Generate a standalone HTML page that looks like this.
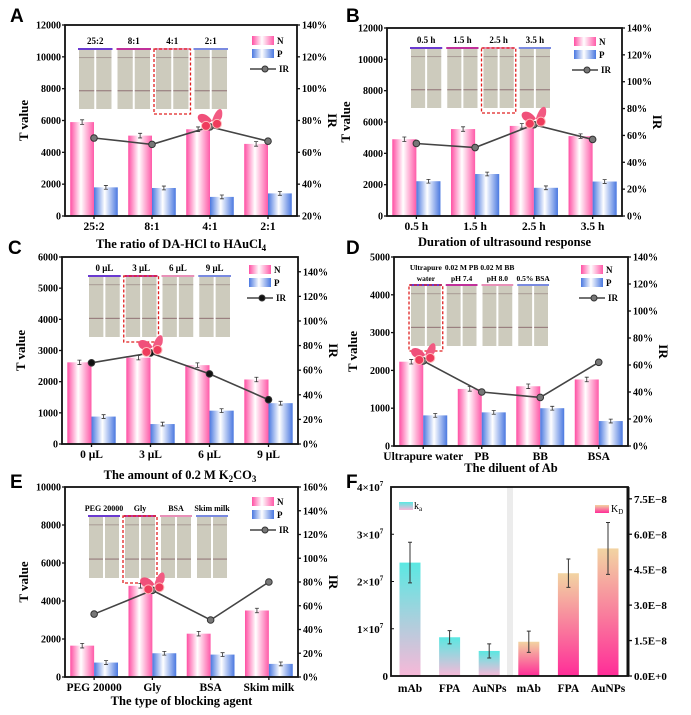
<!DOCTYPE html>
<html><head><meta charset="utf-8"><style>
body{margin:0;background:#fff}
svg{display:block;font-family:"Liberation Serif",serif;font-weight:bold}
.pl{font-family:"Liberation Sans",sans-serif;font-weight:bold;font-size:19px}
</style></head><body>
<svg id="fig" width="691" height="715" viewBox="0 0 691 715" xmlns="http://www.w3.org/2000/svg">
<defs>
<linearGradient id="gN" x1="0" x2="1" y1="0" y2="0"><stop offset="0" stop-color="#ff4fa3"/><stop offset="0.45" stop-color="#fff"/><stop offset="1" stop-color="#ff5aa8"/></linearGradient>
<linearGradient id="gP" x1="0" x2="1" y1="0" y2="0"><stop offset="0" stop-color="#4a78e0"/><stop offset="0.45" stop-color="#fff"/><stop offset="1" stop-color="#4a78e0"/></linearGradient>
<linearGradient id="gKa" x1="0" x2="0" y1="0" y2="1"><stop offset="0" stop-color="#5ae8e2"/><stop offset="1" stop-color="#f8b8d8"/></linearGradient>
<linearGradient id="gKd" x1="0" x2="0" y1="0" y2="1"><stop offset="0" stop-color="#f2d4a2"/><stop offset="1" stop-color="#ff2c98"/></linearGradient>
</defs>
<text class="pl" x="10" y="22">A</text>
<text class="pl" x="346" y="22">B</text>
<text class="pl" x="8" y="254">C</text>
<text class="pl" x="346" y="254">D</text>
<text class="pl" x="10" y="488">E</text>
<text class="pl" x="346" y="488">F</text>
</svg>
<script>
const NS="http://www.w3.org/2000/svg";
const svg=document.getElementById('fig');
function el(tag,attrs,parent,text){const e=document.createElementNS(NS,tag);for(const k in attrs)e.setAttribute(k,attrs[k]);if(text!==undefined)e.textContent=text;(parent||svg).appendChild(e);return e;}

// ---- Data ----
const catsA=["25:2","8:1","4:1","2:1"];
const nA=[5900,5050,5450,4530];
const pA=[1800,1760,1200,1420];
const irA=[69,65,76,67];
const catsB=["0.5 h","1.5 h","2.5 h","3.5 h"];
const nB=[4900,5550,5750,5100];
const pB=[2220,2680,1800,2200];
const irB=[54,51,68,57];
const catsC=["0 μL","3 μL","6 μL","9 μL"];
const nC=[2620,2770,2530,2070];
const pC=[880,640,1070,1310];
const irC=[66,74,57,36];
const catsD=["Ultrapure water","PB","BB","BSA"];
const nD=[2230,1510,1580,1760];
const pD=[810,890,1000,660];
const irD=[63,40,36,62];
const catsE=["PEG 20000","Gly","BSA","Skim milk"];
const nE=[1650,4800,2280,3500];
const pE=[760,1250,1180,690];
const irE=[53,73,48,80];
const catsF=["mAb","FPA","AuNPs","mAb","FPA","AuNPs"];
const kaVals=[2.4,0.82,0.53];
const kaErr=[0.43,0.14,0.15];
const kdVals=[1.45,4.35,5.4];
const kdErr=[0.45,0.6,1.1];
const ticksF=["0","1×10","2×10","3×10","4×10"];
const ticksFR=["0.0E+0","1.5E−8","3.0E−8","4.5E−8","6.0E−8","7.5E−8"];

function panel(c){
  const g=el('g',{});
  const w=c.r-c.l,h=c.b-c.t;
  const yL=v=>c.b-v/c.maxL*h;
  const yR=p=>c.b-(p-c.minR)/(c.maxR-c.minR)*h;
  const cx=i=>c.l+w/c.cats.length*(i+0.5);
  const ins=el('g',{},g);
  
  
  const gw=(c.ix1-c.ix0)/4;
  const lineCol=["#6a3ad0","#c0309a","#e890b8","#7a8ae0"];
  for(let i=0;i<4;i++){
    const x=c.ix0+gw*i+2;
    for(let s=0;s<2;s++){
      const sx=x+s*(gw-4)/2;
      el('rect',{x:sx+1,y:c.iy0,width:(gw-4)/2-2,height:c.iy1-c.iy0,fill:"#cdcbbd"},ins);
      el('rect',{x:sx+1,y:c.iy0+(c.iy1-c.iy0)*0.12,width:(gw-4)/2-2,height:1,fill:"#a89a94"},ins);
      el('rect',{x:sx+1,y:c.iy0+(c.iy1-c.iy0)*0.68,width:(gw-4)/2-2,height:1.2,fill:"#9a8080"},ins);
    }
    el('rect',{x:x,y:c.iy0-2,width:gw-4,height:2,fill:lineCol[i]},ins);
    const lab=c.ilabs[i];
    if(Array.isArray(lab)){el('text',{x:x+(gw-4)/2,y:c.iy0-16,'font-size':7.5,'text-anchor':'middle'},ins,lab[0]);el('text',{x:x+(gw-4)/2,y:c.iy0-5,'font-size':7.5,'text-anchor':'middle'},ins,lab[1]);}
    else el('text',{x:x+(gw-4)/2,y:c.iy0-6,'font-size':c.ifs||9,'text-anchor':'middle'},ins,lab);
    if(i===c.hi) el('rect',{x:x-1,y:c.iy0-1,width:gw-2,height:c.iy1-c.iy0+6,fill:'none',stroke:'#e02020','stroke-width':1.3,'stroke-dasharray':'3,2'},ins);
  }
  const bw=w/4*0.41;
  c.n.forEach((v,i)=>{
    const b=el('rect',{x:cx(i)-bw,y:yL(v),width:bw,height:c.b-yL(v),fill:'url(#gN)'},g);
    
    
    const e=c.maxL*0.012;
    el('path',{d:`M${cx(i)-bw/2} ${yL(v+e)}V${yL(v-e)}M${cx(i)-bw/2-2} ${yL(v+e)}h4M${cx(i)-bw/2-2} ${yL(v-e)}h4`,stroke:'#333','stroke-width':0.8,fill:'none'},g);
  });
  c.p.forEach((v,i)=>{
    const b=el('rect',{x:cx(i),y:yL(v),width:bw,height:c.b-yL(v),fill:'url(#gP)'},g);
    
    
    const e=c.maxL*0.01;
    el('path',{d:`M${cx(i)+bw/2} ${yL(v+e)}V${yL(v-e)}M${cx(i)+bw/2-2} ${yL(v+e)}h4M${cx(i)+bw/2-2} ${yL(v-e)}h4`,stroke:'#333','stroke-width':0.8,fill:'none'},g);
  });
  const pts=c.ir.map((v,i)=>cx(i)+','+yR(v)).join(' ');
  const ln=el('polyline',{points:pts,fill:'none',stroke:'#444','stroke-width':1.6},g);
  
  
  c.ir.forEach((v,i)=>{
    const d=el('circle',{cx:cx(i),cy:yR(v),r:3.3,fill:c.dot||'#777',stroke:'#333','stroke-width':1},g);
    
    
  });
  const bx=cx(c.hi),by=yR(c.ir[c.hi]);
  const bf=el('g',{transform:`translate(${bx+2},${by-6})`},g);
  
  
  el('path',{d:'M0 0 C-6 -10 -16 -8 -14 -2 C-12 4 -4 4 0 0 Z',fill:'#f0507a'},bf);
  el('path',{d:'M0 0 C4 -14 12 -16 10 -4 C8 2 2 2 0 0 Z',fill:'#f25a82'},bf);
  el('circle',{cx:-6,cy:5,r:4.5,fill:'#ef3b5c',stroke:'#fbb','stroke-width':1},bf);
  el('circle',{cx:5,cy:3,r:4.5,fill:'#ef3b5c',stroke:'#fbb','stroke-width':1},bf);
  el('rect',{x:c.l,y:c.t,width:w,height:h,fill:'none',stroke:'#111','stroke-width':1.8},g);
  const step=c.stepL;
  for(let v=0;v<=c.maxL+1;v+=step){
    el('line',{x1:c.l-3,x2:c.l,y1:yL(v),y2:yL(v),stroke:'#111','stroke-width':1.3},g);
    el('text',{x:c.l-4,y:yL(v)+3.5,'font-size':10,'text-anchor':'end'},g,v);
  }
  for(let p=c.minR;p<=c.topR;p+=20){
    el('line',{x1:c.r,x2:c.r+3,y1:yR(p),y2:yR(p),stroke:'#111','stroke-width':1.3},g);
    el('text',{x:c.r+5,y:yR(p)+3.5,'font-size':10},g,p+'%');
  }
  c.cats.forEach((s,i)=>{
    el('line',{x1:cx(i),x2:cx(i),y1:c.b,y2:c.b+3,stroke:'#111','stroke-width':1.3},g);
    const t=el('text',{x:cx(i),y:c.b+14,'font-size':11.5,'text-anchor':'middle'},g,s);
    
    
  });
  const yt=el('text',{transform:`translate(${c.l-37},${(c.t+c.b)/2}) rotate(-90)`,'font-size':13,'text-anchor':'middle'},g,'T value');
  
  
  const yr=el('text',{transform:`translate(${c.r+31},${(c.t+c.b)/2}) rotate(90)`,'font-size':13,'text-anchor':'middle'},g,'IR');
  
  
  const xt=el('text',{x:(c.l+c.r)/2,y:c.titleY,'font-size':12.5,'text-anchor':'middle'},g);
  
  
  xt.innerHTML=c.title;
  const lg=el('g',{},g);
  
  
  const lx=c.l+187,ly=c.t+c.legOff;
  el('rect',{x:lx,y:ly,width:22,height:9,fill:'url(#gN)'},lg);
  el('text',{x:lx+25,y:ly+8,'font-size':9},lg,'N');
  el('rect',{x:lx,y:ly+13,width:22,height:9,fill:'url(#gP)'},lg);
  el('text',{x:lx+25,y:ly+21,'font-size':9},lg,'P');
  el('line',{x1:lx-2,x2:lx+24,y1:ly+33,y2:ly+33,stroke:'#444','stroke-width':1.6},lg);
  el('circle',{cx:lx+13,cy:ly+33,r:3,fill:c.dot||'#777',stroke:'#333'},lg);
  el('text',{x:lx+27,y:ly+36,'font-size':9},lg,'IR');
}

panel({name:'panel-a',l:65,r:297,t:25,b:216,maxL:12000,stepL:2000,minR:20,maxR:140,topR:140,cats:catsA,n:nA,p:pA,ir:irA,hi:2,
  ix0:76,ix1:230,iy0:50,iy1:109,ilabs:catsA,title:'The ratio of DA-HCl to HAuCl<tspan font-size="9" dy="3">4</tspan>',titleY:248,legOff:11});
panel({name:'panel-b',l:387,r:622,t:28,b:216,maxL:12000,stepL:2000,minR:0,maxR:140,topR:140,cats:catsB,n:nB,p:pB,ir:irB,hi:2,
  ix0:408,ix1:553,iy0:49,iy1:108,ilabs:catsB,title:'Duration of ultrasound response',titleY:246,legOff:9});
panel({name:'panel-c',l:62,r:298,t:257,b:444,maxL:6000,stepL:1000,minR:0,maxR:152,topR:140,cats:catsC,n:nC,p:pC,ir:irC,hi:1,dot:'#111',
  ix0:86,ix1:233,iy0:277,iy1:337,ilabs:catsC,title:'The amount of 0.2 M K<tspan font-size="9" dy="3">2</tspan><tspan dy="-3">CO</tspan><tspan font-size="9" dy="3">3</tspan>',titleY:479,legOff:8});
panel({name:'panel-d',l:394,r:628,t:257,b:446,maxL:5000,stepL:1000,minR:0,maxR:140,topR:140,cats:catsD,n:nD,p:pD,ir:irD,hi:0,
  ix0:408,ix1:551,iy0:286,iy1:346,ilabs:[['Ultrapure','water'],['0.02 M PB','pH 7.4'],['0.02 M BB','pH 8.0'],['','0.5% BSA']],title:'The diluent of Ab',titleY:472,legOff:8});
panel({name:'panel-e',l:65,r:298,t:487,b:677,maxL:10000,stepL:2000,minR:0,maxR:160,topR:160,cats:catsE,n:nE,p:pE,ir:irE,hi:1,
  ix0:86,ix1:230,iy0:517,iy1:578,ilabs:catsE,ifs:8,title:'The type of blocking agent',titleY:705,legOff:10});

(function(){
  const g=el('g',{});
  const l=391,r=628,t=487,b=676,h=b-t;
  const maxL=4,maxR=8;
  const yL=v=>b-v/maxL*h, yR=v=>b-v/maxR*h;
  const xs=i=>l+19+i*39.6;
  el('rect',{x:507,y:t,width:6,height:h,fill:'#ececec'},g);
  const bw=21;
  kaVals.forEach((v,i)=>{
    const x=xs(i);
    const bar=el('rect',{x:x-bw/2,y:yL(v),width:bw,height:b-yL(v),fill:'url(#gKa)'},g);
    
    
    const e=kaErr[i];
    el('path',{d:`M${x} ${yL(v+e)}V${yL(v-e)}M${x-2} ${yL(v+e)}h4M${x-2} ${yL(v-e)}h4`,stroke:'#333','stroke-width':1,fill:'none'},g);
  });
  kdVals.forEach((v,i)=>{
    const x=xs(i+3);
    const bar=el('rect',{x:x-bw/2,y:yR(v),width:bw,height:b-yR(v),fill:'url(#gKd)'},g);
    
    
    const e=kdErr[i];
    el('path',{d:`M${x} ${yR(v+e)}V${yR(v-e)}M${x-2} ${yR(v+e)}h4M${x-2} ${yR(v-e)}h4`,stroke:'#333','stroke-width':1,fill:'none'},g);
  });
  el('rect',{x:l,y:t,width:r-l,height:h,fill:'none',stroke:'#111','stroke-width':1.8},g);
  el('line',{x1:r,x2:r,y1:t,y2:b,stroke:'#111','stroke-width':3},g);
  ticksF.forEach((s,i)=>{
    el('line',{x1:l,x2:l+3,y1:yL(i),y2:yL(i),stroke:'#111'},g);
    const tx=el('text',{x:l-3,y:yL(i)+4,'font-size':11,'text-anchor':'end'},g,s);
    if(i>0){tx.setAttribute('text-anchor','start');tx.setAttribute('x',l-34);el('tspan',{'font-size':7,dy:-5},tx,'7');}
  });
  ticksFR.forEach((s,i)=>{
    el('line',{x1:r,x2:r+4,y1:yR(i*1.5),y2:yR(i*1.5),stroke:'#111','stroke-width':1.3},g);
    el('text',{x:r+6,y:yR(i*1.5)+4,'font-size':11},g,s);
  });
  catsF.forEach((s,i)=>{
    const t2=el('text',{x:xs(i),y:b+16,'font-size':11.5,'text-anchor':'middle'},g,s);
    
    
  });
  const lg=el('g',{},g);
  
  
  el('rect',{x:399,y:502,width:14,height:8,fill:'url(#gKa)'},lg);
  el('text',{x:414,y:509,'font-size':10,'font-weight':'normal'},lg).innerHTML='k<tspan font-size="7" dy="2">a</tspan>';
  el('rect',{x:595,y:505,width:14,height:8,fill:'url(#gKd)'},lg);
  el('text',{x:611,y:512,'font-size':10,'font-weight':'normal'},lg).innerHTML='K<tspan font-size="7" dy="2">D</tspan>';
})();
</script>
</body></html>
